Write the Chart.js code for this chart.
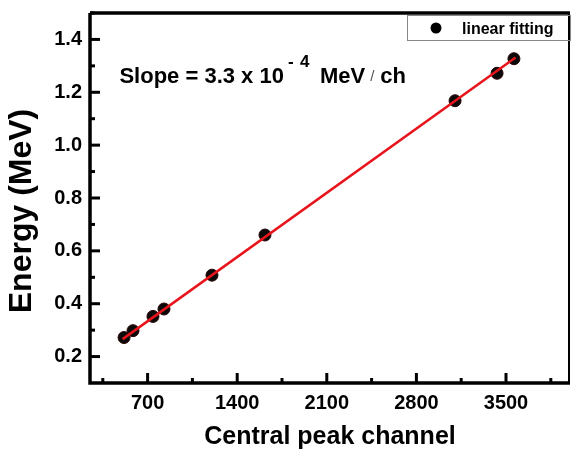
<!DOCTYPE html>
<html>
<head>
<meta charset="utf-8">
<script src="https://cdn.jsdelivr.net/npm/chart.js@4/dist/chart.umd.min.js"></script>
<style>
  html, body { margin: 0; padding: 0; background: #fff; overflow: hidden; }
  #wrap { width: 571px; height: 452px; }
</style>
</head>
<body>
<div id="wrap"><canvas id="plot"></canvas></div>
<script>
// peak channels and energies
const channels = [516, 586, 742, 828, 1203, 1617, 3102, 3430, 3562];
const energies = [0.272, 0.298, 0.352, 0.380, 0.508, 0.660, 1.168, 1.272, 1.327];

// fitted line, ends
const fitX = [505, 3575];
const fitY = [0.266, 1.332];

const xTicks = [700, 1400, 2100, 2800, 3500];
const yTicks = [0.2, 0.4, 0.6, 0.8, 1.0, 1.2, 1.4];

const yTitle = 'Energy (MeV)';
const xTitle = 'Central peak channel';

const FONT = '"Liberation Sans", Arial, sans-serif';

function noPad(s) {
  s.paddingTop = 0; s.paddingBottom = 0; s.paddingLeft = 0; s.paddingRight = 0;
}

// inward ticks, frame, legend box, y title and the slope note
const decorations = {
  id: 'decorations',
  afterDraw(chart) {
    const ctx = chart.ctx;
    const a = chart.chartArea;
    const xs = chart.scales.x, ys = chart.scales.y;
    ctx.save();
    ctx.strokeStyle = '#000';
    ctx.lineCap = 'butt';

    // major + minor ticks on x
    ctx.lineWidth = 3;
    xTicks.forEach(v => {
      const px = xs.getPixelForValue(v);
      ctx.beginPath(); ctx.moveTo(px, a.bottom); ctx.lineTo(px, a.bottom - 10); ctx.stroke();
    });
    for (let v = 350; v < xs.max; v += 700) {
      const px = xs.getPixelForValue(v);
      ctx.beginPath(); ctx.moveTo(px, a.bottom); ctx.lineTo(px, a.bottom - 5); ctx.stroke();
    }
    // major + minor ticks on y
    yTicks.forEach(v => {
      const py = ys.getPixelForValue(v);
      ctx.beginPath(); ctx.moveTo(a.left, py); ctx.lineTo(a.left + 10, py); ctx.stroke();
    });
    for (let v = 0.3; v < ys.max; v += 0.2) {
      const py = ys.getPixelForValue(v);
      ctx.beginPath(); ctx.moveTo(a.left, py); ctx.lineTo(a.left + 5, py); ctx.stroke();
    }

    // frame
    ctx.lineWidth = 3.5;
    ctx.beginPath();
    ctx.moveTo(a.left, a.top); ctx.lineTo(a.left, a.bottom); ctx.lineTo(a.right, a.bottom);
    ctx.stroke();
    ctx.beginPath(); ctx.moveTo(a.left, a.top); ctx.lineTo(a.right, a.top); ctx.stroke();
    ctx.lineWidth = 2;
    ctx.beginPath(); ctx.moveTo(a.right - 1, a.top); ctx.lineTo(a.right - 1, a.bottom); ctx.stroke();

    // legend
    const lx = a.right - 163, ly = a.top + 2;
    ctx.lineWidth = 1;
    ctx.strokeStyle = '#888';
    ctx.strokeRect(lx + 0.5, ly + 0.5, 163, 25);
    ctx.fillStyle = '#000';
    ctx.beginPath(); ctx.arc(lx + 29, ly + 13, 5.5, 0, Math.PI * 2); ctx.fill();
    ctx.font = 'bold 16px ' + FONT;
    ctx.textBaseline = 'alphabetic';
    ctx.fillText(chart.data.datasets[1].label, lx + 55, ly + 19);

    // y title
    ctx.save();
    ctx.translate(22, 211);
    ctx.rotate(-Math.PI / 2);
    ctx.font = 'bold 32px ' + FONT;
    ctx.textAlign = 'center';
    ctx.textBaseline = 'middle';
    ctx.fillText(yTitle, 0, 0);
    ctx.restore();

    // slope note
    const nx = xs.getPixelForValue(480), ny = ys.getPixelForValue(1.235);
    ctx.font = 'bold 22px ' + FONT;
    const t1 = 'Slope = 3.3 x 10';
    ctx.fillText(t1, nx, ny);
    let cx = nx + ctx.measureText(t1).width + 4;
    ctx.font = 'bold 17px ' + FONT;
    ctx.fillText('-', cx, ny - 16);
    cx += 12;
    ctx.fillText('4', cx, ny - 16);
    cx += 20;
    ctx.font = 'bold 22px ' + FONT;
    ctx.fillText('MeV', cx, ny);
    cx += ctx.measureText('MeV').width + 5;
    ctx.font = '15px ' + FONT;
    ctx.fillStyle = '#555';
    ctx.fillText('/', cx, ny - 2);
    cx += 10;
    ctx.fillStyle = '#000';
    ctx.font = 'bold 22px ' + FONT;
    ctx.fillText('ch', cx, ny);
    ctx.restore();
  }
};

new Chart(document.getElementById('plot'), {
  type: 'scatter',
  data: {
    datasets: [
      {
        label: 'fit',
        type: 'line',
        data: fitX.map((x, i) => ({ x: x, y: fitY[i] })),
        borderColor: '#e8141c',
        borderWidth: 2.5,
        pointRadius: 0,
        fill: false
      },
      {
        label: 'linear fitting',
        data: channels.map((c, i) => ({ x: c, y: energies[i] })),
        backgroundColor: '#0a0a0a',
        borderColor: '#2a0505',
        borderWidth: 1,
        pointRadius: 6
      }
    ]
  },
  options: {
    responsive: true,
    maintainAspectRatio: false,
    animation: false,
    layout: { autoPadding: false, padding: { top: 13, right: 1, left: 0, bottom: 0 } },
    plugins: { legend: { display: false }, tooltip: { enabled: false } },
    scales: {
      x: {
        type: 'linear',
        min: 250,
        max: 4000,
        afterBuildTicks: s => { s.ticks = xTicks.map(v => ({ value: v })); },
        afterFit: s => { s.height = 69; noPad(s); },
        grid: { display: false, drawTicks: false },
        border: { display: false },
        ticks: {
          padding: 8,
          color: '#000',
          font: { family: FONT, size: 20, weight: 'bold' },
          callback: v => String(v)
        },
        title: {
          display: true,
          text: xTitle,
          color: '#000',
          padding: 0,
          font: { family: FONT, size: 25, weight: 'bold' }
        }
      },
      y: {
        type: 'linear',
        min: 0.1,
        max: 1.5,
        afterBuildTicks: s => { s.ticks = yTicks.map(v => ({ value: v })); },
        afterFit: s => { s.width = 90; noPad(s); },
        grid: { display: false, drawTicks: false },
        border: { display: false },
        ticks: {
          padding: 8,
          color: '#000',
          font: { family: FONT, size: 20, weight: 'bold' },
          callback: v => v.toFixed(1)
        }
      }
    }
  },
  plugins: [decorations]
});
</script>
</body>
</html>
